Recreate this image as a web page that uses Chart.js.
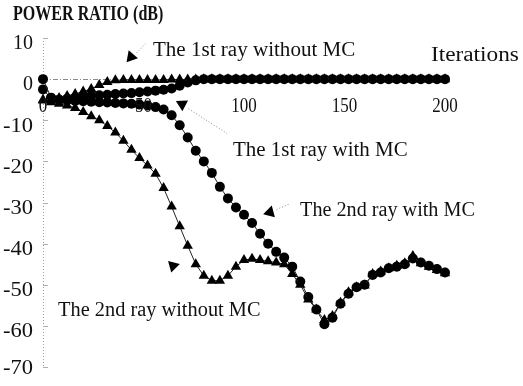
<!DOCTYPE html>
<html>
<head>
<meta charset="utf-8">
<script src="https://cdn.jsdelivr.net/npm/chart.js@4/dist/chart.umd.min.js"></script>
<style>
  html, body { margin: 0; padding: 0; background: #fff; }
  #wrap { width: 523px; height: 386px; }
</style>
</head>
<body>
<div id="wrap"><canvas id="c" width="523" height="386"></canvas></div>
<script>
// Iteration index of every sample
const iterations = [0, 4, 8, 12, 16, 20, 24, 28, 32, 36, 40, 44, 48, 52, 56, 60, 64, 68, 72, 76,
  80, 84, 88, 92, 96, 100, 104, 108, 112, 116, 120, 124, 128, 132, 136, 140, 144, 148, 152, 156,
  160, 164, 168, 172, 176, 180, 184, 188, 192, 196, 200];

// Power ratio (dB) of each ray
const firstRayNoMC = [-5.0, -5.0, -4.6, -4.1, -3.6, -3.0, -2.4, -1.4, -0.7, -0.3, -0.2, -0.2, -0.2, -0.2, -0.2, -0.2, -0.1, -0.1, -0.1, -0.1,
  0, 0, 0, 0, 0, 0, 0, 0, 0, 0, 0, 0, 0, 0, 0, 0, 0, 0, 0, 0,
  0, 0, 0, 0, 0, 0, 0, 0, 0, 0, 0];
const firstRayMC = [0.0, -4.5, -5.0, -4.8, -4.5, -4.2, -4.0, -3.9, -3.8, -3.6, -3.5, -3.4, -3.2, -3.0, -2.8, -2.6, -2.3, -1.6, -0.8, -0.3,
  0, 0, 0, 0, 0, 0, 0, 0, 0, 0, 0, 0, 0, 0, 0, 0, 0, 0, 0, 0,
  0, 0, 0, 0, 0, 0, 0, 0, 0, 0, 0];
const secondRayMC = [-2.5, -4.6, -5.0, -5.2, -5.3, -5.4, -5.5, -5.6, -5.7, -5.8, -5.9, -6.0, -6.2, -6.4, -6.8, -7.4, -8.8, -11.2, -14.2, -17.4,
  -20.0, -22.8, -26.2, -29.0, -31.2, -33.0, -35.0, -37.6, -40.0, -42.0, -43.4, -45.6, -49.2, -53.0, -56.0, -59.6, -58.0, -54.6, -52.2, -50.6,
  -50.0, -47.6, -47.0, -46.0, -45.6, -45.0, -43.6, -44.6, -45.4, -46.2, -47.0];
const secondRayNoMC = [-5.2, -5.6, -6.0, -6.4, -7.0, -8.0, -9.0, -10.0, -11.4, -13.0, -15.0, -17.2, -19.2, -21.0, -23.0, -26.5, -31.0, -35.8, -40.5, -45.0,
  -47.8, -49.0, -49.0, -47.8, -45.6, -44.0, -43.7, -44.0, -44.3, -44.6, -45.0, -47.4, -50.0, -53.6, -56.0, -58.6, -57.6, -54.4, -51.8, -50.6,
  -50.2, -47.4, -46.8, -46.0, -45.4, -44.8, -43.0, -44.8, -45.6, -46.4, -47.2];

// Axis tick labels
const xTicks = [0, 50, 100, 150, 200];
const yTicks = [10, 0, -10, -20, -30, -40, -50, -60, -70];

// Callout labels, placed in data units (iterations, dB)
const callouts = [
  { text: 'The 1st ray without MC', x: 54.7, y: 7.0, head: { x: 43.8, y: 5.4, dir: 100 }, lead: [[46.6, 6.4], [51.0, 8.6]] },
  { text: 'The 1st ray with MC', x: 94.5, y: -17.3, head: { x: 69.2, y: -6.1, dir: 178 }, lead: [[72.4, -7.2], [91.5, -13.2]] },
  { text: 'The 2nd ray with MC', x: 127.9, y: -32.1, head: { x: 112.9, y: -32.4, dir: 15 }, lead: [[116.2, -31.7], [122.4, -30.4]] },
  { text: 'The 2nd ray without MC', x: 7.5, y: -56.4, head: { x: 64.7, y: -45.4, dir: 195 }, lead: null }
];

const FONT = '"Liberation Serif", "DejaVu Serif", serif';

// Serif text squeezed into fixed-width character cells
function cellText(ctx, str, x, y, size, cell, align, weight) {
  ctx.save();
  ctx.font = (weight || 'normal') + ' ' + size + 'px ' + FONT;
  ctx.textBaseline = 'middle';
  ctx.textAlign = 'left';
  const natural = ctx.measureText(str).width;
  const w = cell * str.length;
  const sx = w / natural;
  let left = x;
  if (align === 'center') left = x - w / 2;
  else if (align === 'right') left = x - w;
  ctx.translate(left, y);
  ctx.scale(sx, 1);
  ctx.fillStyle = '#111';
  ctx.fillText(str, 0, 0);
  ctx.restore();
}

// Filled triangle pointer; dir in degrees clockwise from "up"
function pointer(ctx, x, y, size, dir) {
  ctx.save();
  ctx.translate(x, y);
  ctx.rotate(dir * Math.PI / 180);
  ctx.beginPath();
  ctx.moveTo(0, -size);
  ctx.lineTo(size * 0.87, size * 0.5);
  ctx.lineTo(-size * 0.87, size * 0.5);
  ctx.closePath();
  ctx.fillStyle = '#000';
  ctx.fill();
  ctx.restore();
}

const axesPlugin = {
  id: 'plotAxes',
  beforeDatasetsDraw(chart) {
    const { ctx, scales: { x, y } } = chart;
    const x0 = x.getPixelForValue(0);
    const xEnd = x.getPixelForValue(200);
    const y0 = y.getPixelForValue(0);
    const yTop = y.getPixelForValue(10);
    const yBot = y.getPixelForValue(-70);
    ctx.save();
    // vertical axis
    ctx.strokeStyle = '#9a9a9a';
    ctx.lineWidth = 1;
    ctx.setLineDash([1, 2]);
    ctx.beginPath();
    ctx.moveTo(x0 + 0.5, yTop);
    ctx.lineTo(x0 + 0.5, yBot);
    ctx.stroke();
    // inward tick marks
    ctx.setLineDash([]);
    ctx.strokeStyle = '#b0b0b0';
    yTicks.forEach(v => {
      const py = Math.round(y.getPixelForValue(v)) + 0.5;
      ctx.beginPath();
      ctx.moveTo(x0, py);
      ctx.lineTo(x0 + 5, py);
      ctx.stroke();
    });
    // horizontal axis at 0 dB
    ctx.strokeStyle = '#8a8a8a';
    ctx.setLineDash([5, 2, 1, 2]);
    ctx.beginPath();
    ctx.moveTo(x0, Math.round(y0) + 0.5);
    ctx.lineTo(xEnd, Math.round(y0) + 0.5);
    ctx.stroke();
    ctx.restore();
  },
  afterDraw(chart) {
    const { ctx, chartArea, scales: { x, y } } = chart;
    const x0 = x.getPixelForValue(0);
    const y0 = y.getPixelForValue(0);

    // y tick labels
    yTicks.forEach(v => {
      const py = Math.min(y.getPixelForValue(v) + 6, 369);
      cellText(ctx, String(v), x0 - 10, py, 20, 10, 'right');
    });
    // x tick labels, hanging under the 0 dB line
    xTicks.forEach(v => {
      cellText(ctx, String(v), x.getPixelForValue(v), y0 + 28, 20, 8.5, 'center');
    });

    // axis titles
    cellText(ctx, 'POWER RATIO (dB)', chartArea.left - 30, chartArea.top - 23, 20, 9.4, 'left', 'bold');
    cellText(ctx, 'Iterations', x.getPixelForValue(193), y.getPixelForValue(5.6), 20, 8.8, 'left');

    // callouts
    callouts.forEach(c => {
      if (c.lead) {
        ctx.save();
        ctx.strokeStyle = '#8a8a8a';
        ctx.lineWidth = 1;
        ctx.setLineDash([1, 2]);
        ctx.beginPath();
        ctx.moveTo(x.getPixelForValue(c.lead[0][0]), y.getPixelForValue(c.lead[0][1]));
        ctx.lineTo(x.getPixelForValue(c.lead[1][0]), y.getPixelForValue(c.lead[1][1]));
        ctx.stroke();
        ctx.restore();
      }
      pointer(ctx, x.getPixelForValue(c.head.x), y.getPixelForValue(c.head.y), 7, c.head.dir);
      cellText(ctx, c.text, x.getPixelForValue(c.x), y.getPixelForValue(c.y), 20, 9.2, 'left');
    });
  }
};

function series(values) {
  return iterations.map((it, i) => ({ x: it, y: values[i] }));
}

function lineSet(label, values, style, radius) {
  return {
    label,
    data: series(values),
    showLine: true,
    borderColor: '#222',
    borderWidth: 1,
    backgroundColor: '#000',
    pointStyle: style,
    pointRadius: radius,
    pointBackgroundColor: '#000',
    pointBorderColor: '#000',
    pointBorderWidth: 0,
    tension: 0,
    clip: false
  };
}

new Chart(document.getElementById('c'), {
  type: 'scatter',
  data: {
    datasets: [
      lineSet('The 1st ray without MC', firstRayNoMC, 'triangle', 6),
      lineSet('The 2nd ray without MC', secondRayNoMC, 'triangle', 6),
      lineSet('The 1st ray with MC', firstRayMC, 'circle', 5),
      lineSet('The 2nd ray with MC', secondRayMC, 'circle', 5)
    ]
  },
  options: {
    responsive: false,
    devicePixelRatio: 1,
    animation: false,
    layout: { padding: { left: 43, right: 78, top: 38, bottom: 19 } },
    plugins: { legend: { display: false }, tooltip: { enabled: false }, title: { display: false } },
    scales: {
      x: { type: 'linear', min: 0, max: 200, display: false },
      y: { type: 'linear', min: -70, max: 10, display: false }
    }
  },
  plugins: [axesPlugin]
});
</script>
</body>
</html>
